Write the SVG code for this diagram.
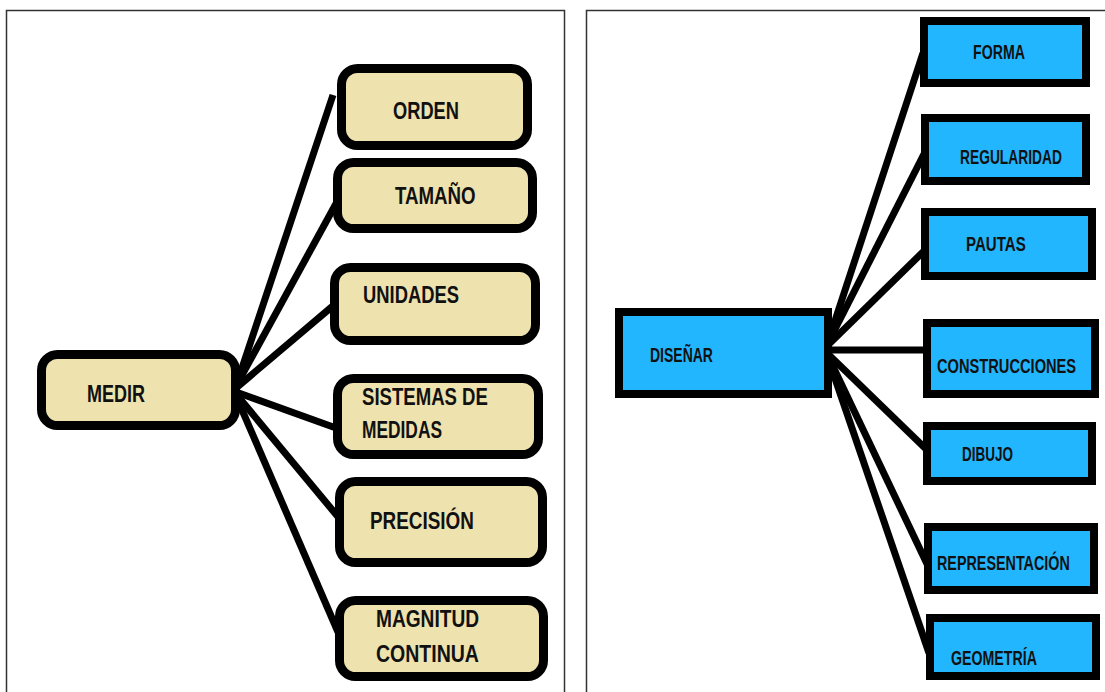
<svg xmlns="http://www.w3.org/2000/svg" width="1105" height="692" viewBox="0 0 1105 692">
<style>
.frame{fill:none;stroke:#333;stroke-width:1.5}
.tan{fill:#EEE2AE;stroke:#000;stroke-width:9}
.blue{fill:#22B6FF;stroke:#000;stroke-width:8}
.lk{stroke:#000;stroke-width:7;fill:none}
.tl{font-family:"Liberation Sans",Arial,sans-serif;font-weight:bold;font-size:24px;fill:#111}
.tr{font-family:"Liberation Sans",Arial,sans-serif;font-weight:bold;font-size:20px;fill:#111}
</style>
<rect width="1105" height="692" fill="#fff"/>
<rect class="frame" x="6.5" y="10.5" width="558" height="700"/>
<rect class="frame" x="586.5" y="10.5" width="540" height="700"/>
<g id="connectors">
<line class="lk" x1="236" y1="386" x2="333" y2="95"/>
<line class="lk" x1="236" y1="386" x2="338" y2="200"/>
<line class="lk" x1="236" y1="388" x2="334" y2="305"/>
<line class="lk" x1="236" y1="392" x2="336" y2="428"/>
<line class="lk" x1="236" y1="394" x2="339" y2="518"/>
<line class="lk" x1="236" y1="396" x2="338" y2="632"/>
<line class="lk" x1="828" y1="342" x2="923" y2="53"/>
<line class="lk" x1="828" y1="343" x2="925" y2="152"/>
<line class="lk" x1="828" y1="345" x2="925" y2="250"/>
<line class="lk" x1="828" y1="350" x2="926" y2="350"/>
<line class="lk" x1="828" y1="354" x2="927" y2="450"/>
<line class="lk" x1="828" y1="356" x2="928" y2="566"/>
<line class="lk" x1="828" y1="358" x2="929" y2="653"/>
</g>
<g id="medir"><rect class="tan" x="41.5" y="354.5" width="194" height="71" rx="16"/><text class="tl" transform="translate(87,402) scale(0.75,1)">MEDIR</text></g>
<g id="orden"><rect class="tan" x="341.5" y="68.5" width="186" height="77" rx="16"/><text class="tl" transform="translate(393,119) scale(0.761,1)">ORDEN</text></g>
<g id="tamano"><rect class="tan" x="337.5" y="162.5" width="195" height="66" rx="16"/><text class="tl" transform="translate(395,204) scale(0.779,1)">TAMAÑO</text></g>
<g id="unidades"><rect class="tan" x="334.5" y="267.5" width="201" height="73" rx="16"/><text class="tl" transform="translate(363,303) scale(0.766,1)">UNIDADES</text></g>
<g id="sistemas"><rect class="tan" x="337.5" y="378.5" width="201" height="76" rx="16"/><text class="tl" transform="translate(362,405) scale(0.774,1)">SISTEMAS DE</text><text class="tl" transform="translate(362,438) scale(0.723,1)">MEDIDAS</text></g>
<g id="precision"><rect class="tan" x="339.5" y="481.5" width="203" height="81" rx="16"/><text class="tl" transform="translate(370,529) scale(0.788,1)">PRECISIÓN</text></g>
<g id="magnitud"><rect class="tan" x="339.5" y="600.5" width="204" height="76" rx="16"/><text class="tl" transform="translate(376,627) scale(0.797,1)">MAGNITUD</text><text class="tl" transform="translate(376,662) scale(0.813,1)">CONTINUA</text></g>
<g id="disenar"><rect class="blue" x="619" y="312" width="209" height="82"/><text class="tr" transform="translate(650,362) scale(0.70,1)">DISEÑAR</text></g>
<g id="forma"><rect class="blue" x="924" y="21" width="162" height="62"/><text class="tr" transform="translate(973,59) scale(0.709,1)">FORMA</text></g>
<g id="regularidad"><rect class="blue" x="925" y="118" width="161" height="63"/><text class="tr" transform="translate(960,164) scale(0.69,1)">REGULARIDAD</text></g>
<g id="pautas"><rect class="blue" x="925" y="212" width="167" height="64"/><text class="tr" transform="translate(966,251) scale(0.754,1)">PAUTAS</text></g>
<g id="construcciones"><rect class="blue" x="927" y="323" width="168" height="71"/><text class="tr" transform="translate(937,373) scale(0.733,1)">CONSTRUCCIONES</text></g>
<g id="dibujo"><rect class="blue" x="927" y="426" width="165" height="55"/><text class="tr" transform="translate(962,461) scale(0.675,1)">DIBUJO</text></g>
<g id="representacion"><rect class="blue" x="928" y="527" width="166" height="63"/><text class="tr" transform="translate(937,570) scale(0.718,1)">REPRESENTACIÓN</text></g>
<g id="geometria"><rect class="blue" x="930" y="618" width="166" height="58"/><text class="tr" transform="translate(951,665) scale(0.71,1)">GEOMETRÍA</text></g>
</svg>
